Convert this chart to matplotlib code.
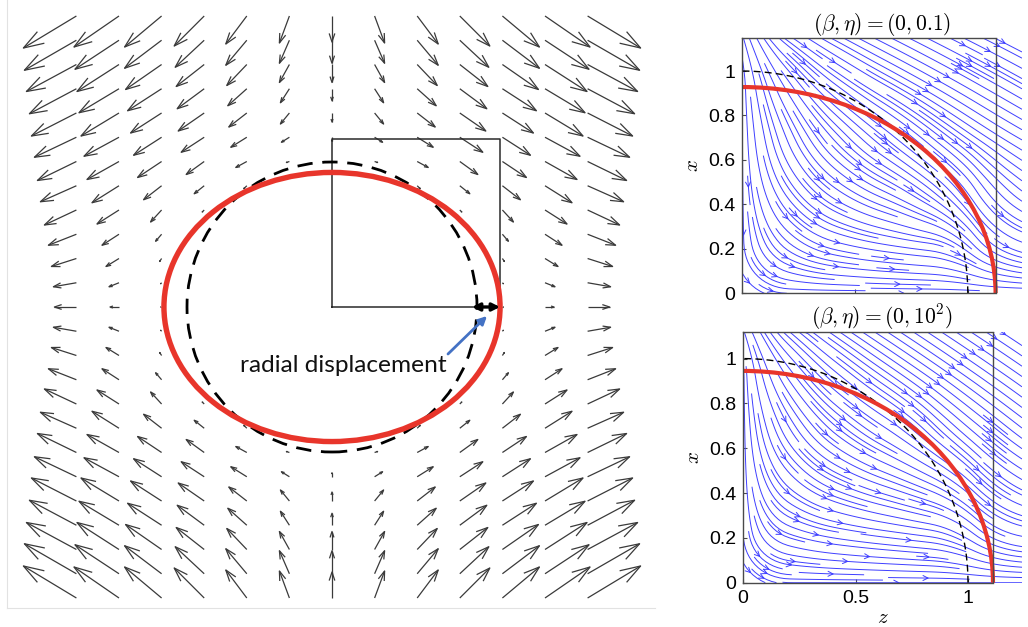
import numpy as np
import matplotlib
matplotlib.use("Agg")
import matplotlib.pyplot as plt
from matplotlib.collections import LineCollection
from matplotlib.patches import Ellipse, Circle, Arc

plt.rcParams['mathtext.fontset'] = 'cm'
plt.rcParams['font.family'] = ['Liberation Sans', 'DejaVu Sans']

W, H = 1028, 627
fig = plt.figure(figsize=(W / 100, H / 100), dpi=100)

# ------------------------------------------------------------------
# Left panel: displacement field around a deforming drop
# ------------------------------------------------------------------
NaN = np.nan
# upper-right quadrant of the field, rows from the far edge down to the
# symmetry line, columns from the vertical axis outwards (pixel lengths)
quad_u = [
    [0, 10, 21, 30, 37, 45, 53],
    [0, 10, 21, 29, 37, 44, 52],
    [0, 10, 20, 28, 36, 42, 50],
    [0, 9, 19, 27, 34, 40, 47],
    [0, 9, 18, 26, 31, 38, 45],
    [0, 8, 16, 23, 28, 35, 42],
    [NaN, 3, 11, 18, 24, 32, 39],
    [NaN, NaN, 3, 10, 18, 27, 36],
    [NaN, NaN, NaN, 2, 11, 22, 32],
    [NaN, NaN, NaN, NaN, 6, 17, 28],
    [NaN, NaN, NaN, NaN, 2, 13, 25],
    [NaN, NaN, NaN, NaN, 1, 10, 23],
    [NaN, NaN, NaN, NaN, 1, 9, 22],
]
quad_v = [
    [-26, -27, -28, -30, -31, -31, -32],
    [-23, -23, -25, -27, -28, -29, -30],
    [-18, -18, -21, -22, -25, -27, -27],
    [-12, -14, -17, -20, -22, -24, -25],
    [-9, -11, -14, -18, -20, -23, -23],
    [-4, -5, -10, -15, -18, -19, -20],
    [NaN, -1, -6, -13, -16, -18, -19],
    [NaN, NaN, -3, -8, -14, -17, -16],
    [NaN, NaN, NaN, -2, -12, -14, -15],
    [NaN, NaN, NaN, NaN, -7, -11, -11],
    [NaN, NaN, NaN, NaN, -3, -8, -8],
    [NaN, NaN, NaN, NaN, -1, -4, -4],
    [NaN, NaN, NaN, NaN, 0, 0, 0],
]

# drop geometry (undeformed radius = 1)
drop_radius = 1.0
ellipse_a = 1.159     # deformed semi-axis along the stretching direction
ellipse_b = 0.928     # deformed semi-axis across it
label_text = "radial displacement"

PX = 145.0            # pixels per unit radius
col_step = 42.6 / PX
row_step = 24.25 / PX

Qu = np.array(quad_u, float)
Qv = np.array(quad_v, float)
upper_u = np.hstack([-Qu[:, :0:-1], Qu])
upper_v = np.hstack([Qv[:, :0:-1], Qv])
full_u = np.vstack([upper_u, upper_u[-2::-1]]) / PX
full_v = np.vstack([upper_v, -upper_v[-2::-1]]) / PX
ncol = full_u.shape[1]
nrow = full_u.shape[0]
gx = (np.arange(ncol) - ncol // 2) * col_step
gy = (nrow // 2 - np.arange(nrow)) * row_step

axL = fig.add_axes([7 / W, (H - 608) / H, 648 / W, 608 / H])
axL.set_xlim((7 - 332) / PX, (655 - 332) / PX)
axL.set_ylim(-(608 - 307) / PX, 307 / PX)
for s in ('top', 'right'):
    axL.spines[s].set_visible(False)
for s in ('left', 'bottom'):
    axL.spines[s].set_color('#e2e2e2')
    axL.spines[s].set_linewidth(0.8)
axL.set_xticks([])
axL.set_yticks([])

alpha, beta = 0.33, 0.33
segs = []
for i in range(nrow):
    for j in range(ncol):
        u, v = full_u[i, j], full_v[i, j]
        if np.isnan(u) or np.isnan(v) or (u == 0 and v == 0):
            continue
        x0, y0 = gx[j], gy[i]
        tx, ty = x0 + u, y0 + v
        segs.append([(x0, y0), (tx, ty)])
        w1 = (tx - alpha * (u + beta * v), ty - alpha * (v - beta * u))
        w2 = (tx - alpha * (u - beta * v), ty - alpha * (v + beta * u))
        segs.append([w1, (tx, ty), w2])
axL.add_collection(LineCollection(segs, colors='#3a3a3a', linewidths=0.9))

# square from the centre to the deformed tip
axL.plot([0, ellipse_a, ellipse_a, 0, 0], [0, 0, ellipse_a, ellipse_a, 0],
         color='#2a2a2a', lw=1.1, zorder=3)
axL.add_patch(Circle((0, 0), drop_radius, fill=False, color='black', lw=2.0,
                     linestyle=(0, (5.5, 3.5)), zorder=4))
axL.add_patch(Ellipse((0, 0), 2 * ellipse_a, 2 * ellipse_b, fill=False,
                      color='#e8352b', lw=3.9, zorder=5))
axL.annotate('', xy=(ellipse_a, 0), xytext=(0.965, 0),
             arrowprops=dict(arrowstyle='<|-|>', color='black', lw=2.4,
                             mutation_scale=11, shrinkA=0, shrinkB=0), zorder=6)

txt = axL.text((240 - 332) / PX, (307 - 372) / PX, label_text, family='Lato',
               fontsize=16, color='#111111', va='baseline', ha='left', zorder=6)
fig.canvas.draw()
wpx = txt.get_window_extent().width
txt.set_fontsize(16 * 207.0 / wpx)
axL.annotate('', xy=((487 - 332) / PX, (307 - 316) / PX),
             xytext=((448 - 332) / PX, (307 - 354) / PX),
             arrowprops=dict(arrowstyle='-|>', color='#4472c4', lw=2.0,
                             mutation_scale=12, shrinkA=0, shrinkB=0), zorder=7)

# ------------------------------------------------------------------
# Right panels: streamlines in the (z, x) quarter plane
# ------------------------------------------------------------------
z_nodes = np.linspace(0, 1.24, 7)
x_nodes = np.linspace(0, 1.15, 6)

# local flow direction (degrees) on the node grid, rows from x = 0 upward
angles_eta_small = [
    [-45, 0, 0, 0, 0, 0, 0],
    [-90, -40, -15, -10, -8, -50, -20],
    [-90, -55, -35, -25, -38, -58, -38],
    [-90, -68, -48, -40, -40, -35, -30],
    [-90, -58, -38, -30, -30, -30, -30],
    [-75, -35, -28, -27, -27, -27, -27],
]
angles_eta_large = [
    [-45, 0, 0, 0, 0, 0, 0],
    [-90, -20, -10, -8, -8, -40, -12],
    [-90, -45, -25, -20, -25, -45, -30],
    [-90, -60, -40, -33, -45, -40, -38],
    [-90, -55, -40, -35, -35, -35, -35],
    [-70, -38, -33, -33, -33, -33, -33],
]
panel_titles = [r'$(\beta,\eta) = (0, 0.1)$', r'$(\beta,\eta) = (0, 10^2)$']
red_a = [1.123, 1.111]
red_b = [0.928, 0.945]
panel_ytop = [1.15, 1.12]
y_ticks = [0, 0.2, 0.4, 0.6, 0.8, 1]
y_ticklabels = ['0', '0.2', '0.4', '0.6', '0.8', '1']
z_ticks = [0, 0.5, 1]
z_ticklabels = ['0', '0.5', '1']

panel_rects = [
    [742 / W, (H - 293.3) / H, 280 / W, 255.6 / H],
    [743 / W, (H - 582.7) / H, 279 / W, 251 / H],
]
angle_sets = [angles_eta_small, angles_eta_large]
frame_col = '#4a4a4a'

for k in range(2):
    ax = fig.add_axes(panel_rects[k])
    ang = np.radians(np.array(angle_sets[k], float))
    U = np.cos(ang)
    V = np.sin(ang)
    kw = dict(density=1.7, color='#3f3fff', linewidth=0.7, arrowsize=0.9,
              arrowstyle='->', integration_direction='both')
    try:
        ax.streamplot(z_nodes, x_nodes, U, V, num_arrows=2, **kw)
    except TypeError:
        ax.streamplot(z_nodes, x_nodes, U, V, **kw)
    th = np.linspace(0, np.pi / 2, 200)
    ax.plot(drop_radius * np.cos(th), drop_radius * np.sin(th), color='black',
            lw=1.0, linestyle=(0, (5, 3)), zorder=4)
    ax.add_patch(Arc((0, 0), 2 * red_a[k], 2 * red_b[k], theta1=0, theta2=90,
                     color='#e8352b', lw=3.0, zorder=5))
    ax.axvline(red_a[k], color=frame_col, lw=1.0, zorder=6)
    ax.set_xlim(0, 1.24)
    ax.set_ylim(0, panel_ytop[k])
    ax.spines['right'].set_visible(False)
    ax.spines['top'].set_bounds(0, red_a[k])
    ax.spines['bottom'].set_bounds(0, red_a[k])
    for s in ('left', 'top', 'bottom'):
        ax.spines[s].set_color(frame_col)
        ax.spines[s].set_linewidth(1.0)
        ax.spines[s].set_zorder(6)
    ax.set_yticks(y_ticks)
    ax.set_yticklabels(y_ticklabels)
    ax.set_xticks(z_ticks)
    if k == 1:
        ax.set_xticklabels(z_ticklabels)
        ax.set_xlabel('$z$', fontsize=15, labelpad=1)
    else:
        ax.set_xticklabels([])
    ax.tick_params(direction='in', length=3, width=0.8, color=frame_col,
                   labelsize=14, pad=5)
    ax.set_ylabel('$x$', fontsize=15, labelpad=4)
    ax.set_title(panel_titles[k], fontsize=15.5, pad=5)

fig.savefig('out.png', dpi=100)
